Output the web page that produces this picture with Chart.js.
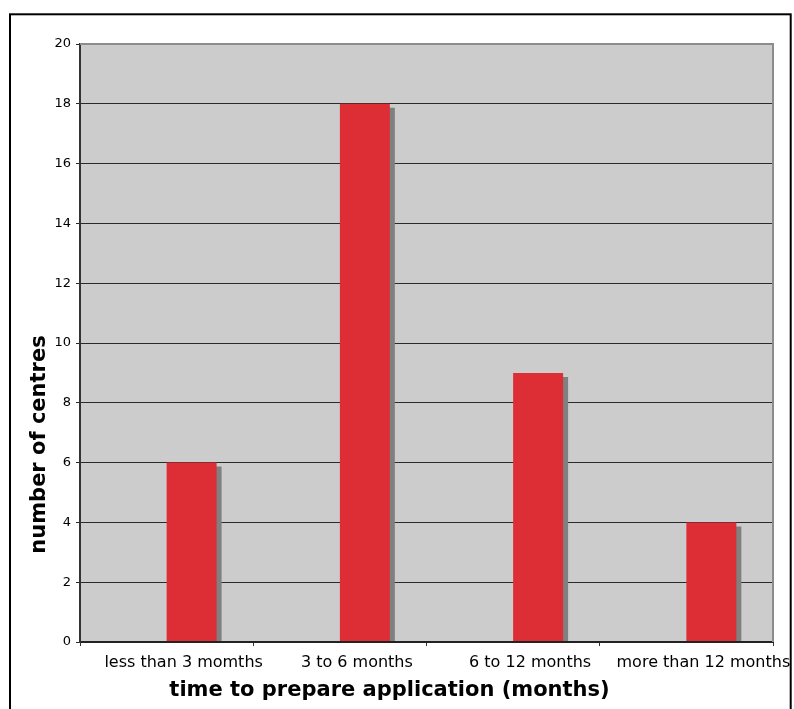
<!DOCTYPE html>
<html>
<head>
<meta charset="utf-8">
<script src="https://cdn.jsdelivr.net/npm/chart.js@4/dist/chart.umd.min.js"></script>
<style>
  body { margin: 0; background: #ffffff; }
  canvas { display: block; }
</style>
</head>
<body>
<canvas id="myChart" width="794" height="709"></canvas>
<script>
// donnees
var categories = ["less than 3 momths", "3 to 6 months", "6 to 12 months", "more than 12 months"];
var centres = [6, 18, 9, 4];
var emptySeries = [null, null, null, null]; // serie vide qui decale les barres a droite
var yTicks = [0, 2, 4, 6, 8, 10, 12, 14, 16, 18, 20];

var xTitle = "time to prepare application (months)";
var yTitle = "number of centres";

// fond gris, cadre, titres et ombre des barres
var decor = {
  id: "decor",
  beforeDraw: function (chart) {
    var ctx = chart.ctx;
    var a = chart.chartArea;
    ctx.save();
    ctx.fillStyle = "#ffffff";
    ctx.fillRect(0, 0, chart.width, chart.height);
    ctx.fillStyle = "#cccccc";
    ctx.fillRect(a.left, a.top, a.right - a.left, a.bottom - a.top);
    ctx.restore();
  },
  beforeDatasetDraw: function (chart, args) {
    var ctx = chart.ctx;
    ctx.save();
    ctx.shadowColor = "#808080";
    ctx.shadowOffsetX = 5;
    ctx.shadowOffsetY = 4;
    ctx.shadowBlur = 0;
  },
  afterDatasetDraw: function (chart) {
    chart.ctx.restore();
  },
  afterDraw: function (chart) {
    var ctx = chart.ctx;
    var a = chart.chartArea;
    ctx.save();
    // haut et droite du cadre en gris
    ctx.strokeStyle = "#8c8c8c";
    ctx.lineWidth = 2;
    ctx.beginPath();
    ctx.moveTo(a.left, a.top);
    ctx.lineTo(a.right, a.top);
    ctx.lineTo(a.right, a.bottom);
    ctx.stroke();

    ctx.fillStyle = "#000000";
    ctx.font = "bold 21px 'DejaVu Sans'";
    ctx.textAlign = "center";
    ctx.textBaseline = "alphabetic";
    ctx.fillText(xTitle, 389.5, 696);

    ctx.translate(45, 444.5);
    ctx.rotate(-Math.PI / 2);
    ctx.fillText(yTitle, 0, 0);
    ctx.restore();

    // bordure exterieure
    ctx.save();
    ctx.strokeStyle = "#000000";
    ctx.lineWidth = 2;
    ctx.strokeRect(10, 14.3, 780.7, 720);
    ctx.restore();
  }
};

var ctx = document.getElementById("myChart");

new Chart(ctx, {
  type: "bar",
  data: {
    labels: categories,
    datasets: [
      {
        data: emptySeries,
        backgroundColor: "#dd2d35"
      },
      {
        data: centres,
        backgroundColor: "#dd2d35",
        borderWidth: 0
      }
    ]
  },
  options: {
    responsive: false,
    animation: false,
    devicePixelRatio: 1,
    clip: 0,
    layout: { padding: { left: 0, top: 44, right: 21, bottom: 0 } },
    datasets: {
      bar: { barPercentage: 1, categoryPercentage: 0.577 }
    },
    plugins: {
      legend: { display: false },
      tooltip: { enabled: false }
    },
    scales: {
      x: {
        offset: true,
        afterFit: function (scale) { scale.height = 67; },
        grid: {
          offset: true,
          drawOnChartArea: false,
          drawTicks: true,
          tickLength: 4,
          color: "#333333",
          lineWidth: 1
        },
        border: { display: true, color: "#222222", width: 2, z: 1 },
        ticks: {
          color: "#000000",
          font: { family: "'DejaVu Sans'", size: 16 },
          padding: 7,
          labelOffset: 17,
          maxRotation: 0,
          autoSkip: false
        }
      },
      y: {
        min: 0,
        max: 20,
        afterFit: function (scale) { scale.width = 80; },
        afterBuildTicks: function (scale) {
          scale.ticks = yTicks.map(function (v) { return { value: v }; });
        },
        grid: {
          color: "#2a2a2a",
          lineWidth: 1,
          tickLength: 4
        },
        border: { display: true, color: "#333333", width: 2, z: 1 },
        ticks: {
          color: "#000000",
          font: { family: "'DejaVu Sans'", size: 13 },
          padding: 5
        }
      }
    }
  },
  plugins: [decor]
});
</script>
</body>
</html>
